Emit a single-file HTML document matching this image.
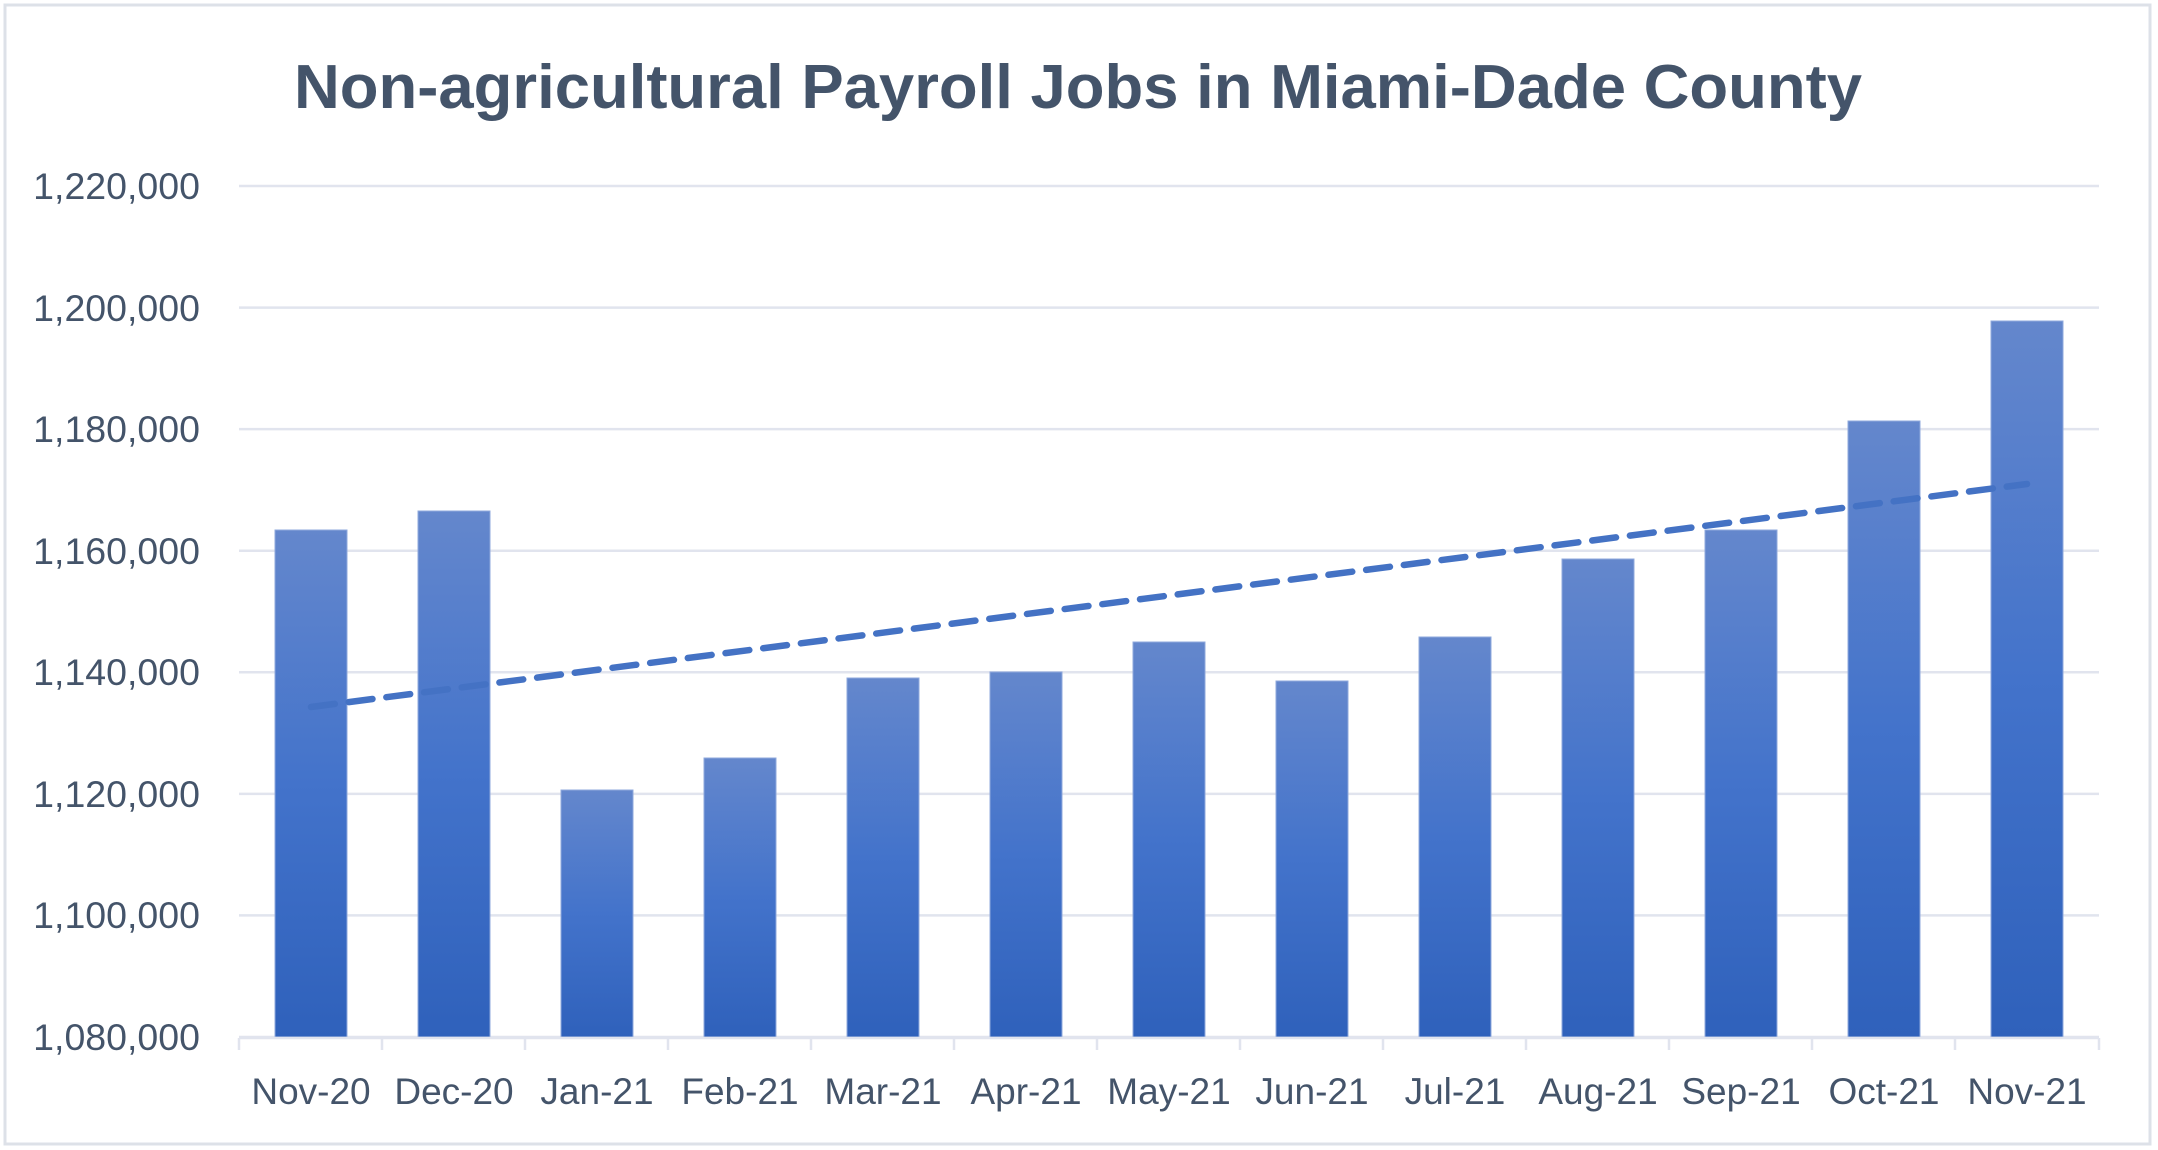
<!DOCTYPE html>
<html><head><meta charset="utf-8"><style>html,body{margin:0;padding:0;background:#fff}svg{display:block}</style></head>
<body>
<svg width="2158" height="1150" viewBox="0 0 2158 1150" xmlns="http://www.w3.org/2000/svg" font-family="'Liberation Sans', sans-serif">
<defs><linearGradient id="g" x1="0" y1="0" x2="0" y2="1"><stop offset="0" stop-color="#6487cc"/><stop offset="0.5" stop-color="#4373cb"/><stop offset="1" stop-color="#2f61bb"/></linearGradient></defs>
<rect x="5" y="5" width="2145" height="1139" fill="#fff" stroke="#dde1e8" stroke-width="3"/>
<text x="1078" y="108" text-anchor="middle" font-size="62" font-weight="bold" fill="#44546a" textLength="1568" lengthAdjust="spacingAndGlyphs">Non-agricultural Payroll Jobs in Miami-Dade County</text>
<g stroke="#e1e4ee" stroke-width="2.5">
<line x1="239" x2="2099" y1="186" y2="186"/><line x1="239" x2="2099" y1="307.6" y2="307.6"/><line x1="239" x2="2099" y1="429.1" y2="429.1"/><line x1="239" x2="2099" y1="550.7" y2="550.7"/><line x1="239" x2="2099" y1="672.3" y2="672.3"/><line x1="239" x2="2099" y1="793.9" y2="793.9"/><line x1="239" x2="2099" y1="915.4" y2="915.4"/><line x1="239" x2="2099" y1="1037" y2="1037"/>
</g>
<g fill="#44546a" font-size="37.5" text-anchor="end">
<text x="200" y="199">1,220,000</text><text x="200" y="321">1,200,000</text><text x="200" y="442">1,180,000</text><text x="200" y="564">1,160,000</text><text x="200" y="685">1,140,000</text><text x="200" y="807">1,120,000</text><text x="200" y="928">1,100,000</text><text x="200" y="1050">1,080,000</text>
</g>
<g fill="url(#g)" stroke="#8fa9dc" stroke-width="1">
<rect x="275" y="530" width="72" height="507"/>
<rect x="418" y="511" width="72" height="526"/>
<rect x="561" y="790" width="72" height="247"/>
<rect x="704" y="758" width="72" height="279"/>
<rect x="847" y="678" width="72" height="359"/>
<rect x="990" y="672" width="72" height="365"/>
<rect x="1133" y="642" width="72" height="395"/>
<rect x="1276" y="681" width="72" height="356"/>
<rect x="1419" y="637" width="72" height="400"/>
<rect x="1562" y="559" width="72" height="478"/>
<rect x="1705" y="530" width="72" height="507"/>
<rect x="1848" y="421" width="72" height="616"/>
<rect x="1991" y="321" width="72" height="716"/>
</g>
<line x1="311" y1="707" x2="2027" y2="484" stroke="#4472c4" stroke-width="6.5" stroke-dasharray="24,14" stroke-linecap="round"/>
<g stroke="#e1e4ee" stroke-width="2.5">
<line x1="239" x2="2099" y1="1038" y2="1038"/>
<line x1="239" x2="239" y1="1038" y2="1050"/><line x1="382" x2="382" y1="1038" y2="1050"/><line x1="525" x2="525" y1="1038" y2="1050"/><line x1="668" x2="668" y1="1038" y2="1050"/><line x1="811" x2="811" y1="1038" y2="1050"/><line x1="954" x2="954" y1="1038" y2="1050"/><line x1="1097" x2="1097" y1="1038" y2="1050"/><line x1="1240" x2="1240" y1="1038" y2="1050"/><line x1="1383" x2="1383" y1="1038" y2="1050"/><line x1="1526" x2="1526" y1="1038" y2="1050"/><line x1="1669" x2="1669" y1="1038" y2="1050"/><line x1="1812" x2="1812" y1="1038" y2="1050"/><line x1="1955" x2="1955" y1="1038" y2="1050"/><line x1="2099" x2="2099" y1="1038" y2="1050"/>
</g>
<g fill="#44546a" font-size="37" text-anchor="middle">
<text x="311" y="1104">Nov-20</text><text x="454" y="1104">Dec-20</text><text x="597" y="1104">Jan-21</text><text x="740" y="1104">Feb-21</text><text x="883" y="1104">Mar-21</text><text x="1026" y="1104">Apr-21</text><text x="1169" y="1104">May-21</text><text x="1312" y="1104">Jun-21</text><text x="1455" y="1104">Jul-21</text><text x="1598" y="1104">Aug-21</text><text x="1741" y="1104">Sep-21</text><text x="1884" y="1104">Oct-21</text><text x="2027" y="1104">Nov-21</text>
</g>
</svg>
</body></html>
